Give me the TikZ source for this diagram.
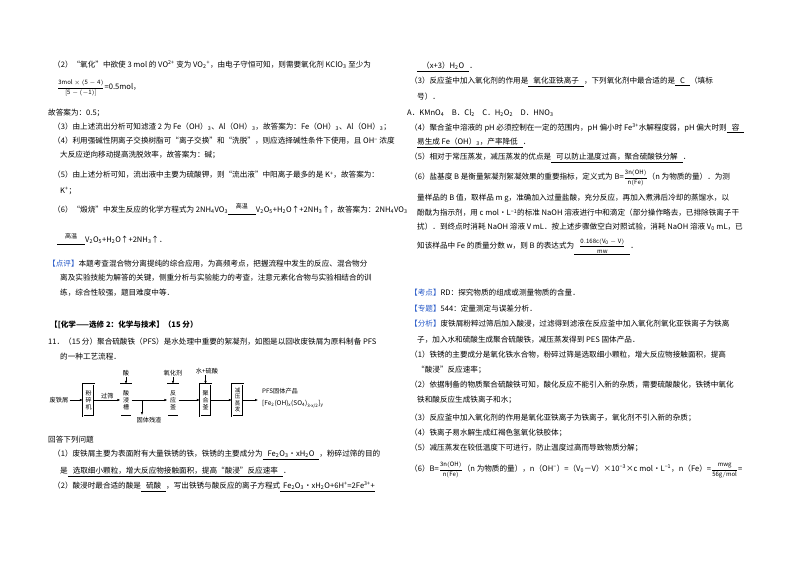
\documentclass[tikz,border=0pt]{standalone}
\usepackage{fontspec}
\setmainfont{Noto Sans CJK SC}
\usetikzlibrary{arrows.meta}
\newcommand{\ul}[1]{\underline{\hspace{5pt}#1\hspace{5pt}}}
\newcommand{\dn}[1]{\textsubscript{#1}}
\newcommand{\up}[1]{\textsuperscript{#1}}
\newcommand{\fr}[2]{$\displaystyle\frac{\mathrm{#1}}{\mathrm{#2}}$}
\newcommand{\gw}{\begin{tabular}{@{}c@{}}\fontsize{6}{6}\selectfont 高温\\[-3pt]\rule{28pt}{0.4pt}\end{tabular}}
\definecolor{hl}{RGB}{40,90,200}
\begin{document}
\begin{tikzpicture}[x=1pt,y=-1pt,
  L/.style={anchor=west,inner sep=0pt,font=\fontsize{7.6}{9}\selectfont},
  box/.style={draw,double,double distance=1pt,minimum width=11pt,text width=7pt,minimum height=32pt,inner sep=0.5pt,align=center,font=\fontsize{6}{6.8}\selectfont},
  lab/.style={inner sep=1pt,font=\fontsize{6.2}{7.5}\selectfont},
  arr/.style={-{Latex[length=3pt,width=2.5pt]},line width=0.5pt}]
\fill[white] (0,0) rectangle (800,565);
\useasboundingbox (0,0) rectangle (800,565);
% left column
\node[L] (l1) at (53,65) {（2）“氧化”中欲使 3 mol 的 VO\up{2+} 变为 VO\dn{2}\up{+}，由电子守恒可知，则需要氧化剂 KClO\dn{3} 至少为};
\node[L] (l2) at (57,88) {{\fontsize{6}{7}\selectfont\fr{3mol\times(5-4)}{[5-(-1)]}}=0.5mol，};
\node[L] (l3) at (48,113) {故答案为：0.5；};
\node[L] (l4) at (53,127) {（3）由上述流出分析可知滤渣 2 为 Fe（OH）\dn{3}、Al（OH）\dn{3}，故答案为：Fe（OH）\dn{3}、Al（OH）\dn{3}；};
\node[L] (l5) at (53,141) {（4）利用强碱性阴离子交换树脂可“离子交换”和“洗脱”，则应选择碱性条件下使用，且 OH\up{−} 浓度};
\node[L] (l6) at (60,155) {大反应逆向移动提高洗脱效率，故答案为：碱；};
\node[L] (l7) at (53,175) {（5）由上述分析可知，流出液中主要为硫酸钾，则“流出液”中阳离子最多的是 K\up{+}，故答案为：};
\node[L] (l8) at (60,191) {K\up{+}；};
\node[L] (l9) at (53,210) {（6）“煅烧”中发生反应的化学方程式为 2NH\dn{4}VO\dn{3}\gw V\dn{2}O\dn{5}+H\dn{2}O↑+2NH\dn{3}↑，故答案为：2NH\dn{4}VO\dn{3}};
\node[L] (l10) at (57,240) {\gw V\dn{2}O\dn{5}+H\dn{2}O↑+2NH\dn{3}↑．};
\node[L] (l11) at (48,264) {{\color{hl}【点评】}本题考查混合物分离提纯的综合应用，为高频考点，把握流程中发生的反应、混合物分};
\node[L] (l12) at (60,278) {离及实验技能为解答的关键，侧重分析与实验能力的考查，注意元素化合物与实验相结合的训};
\node[L] (l13) at (60,293) {练，综合性较强，题目难度中等．};
\node[L,font=\fontsize{7.6}{9}\selectfont\bfseries] (t1) at (50,325) {【[化学——选修 2：化学与技术】（15 分）};
\node[L] (l14) at (48,342) {11．（15 分）聚合硫酸铁（PFS）是水处理中重要的絮凝剂，如图是以回收废铁屑为原料制备 PFS};
\node[L] (l15) at (60,357) {的一种工艺流程．};
% flowchart
\node[lab] (raw) at (59,400) {废铁屑};
\node[box] (b1) at (88.5,400) {粉\\碎\\机};
\node[box] (b2) at (126,400) {酸\\浸\\槽};
\node[box] (b3) at (173,400) {反\\应\\釜};
\node[box] (b4) at (205.5,400) {聚\\合\\釜};
\node[box,font=\fontsize{5.5}{6.3}\selectfont] (b5) at (237.5,400) {减\\压\\蒸\\发};
\node[lab] (acid) at (126,373) {酸};
\node[lab] (ox) at (173,373) {氧化剂};
\node[lab] (ws) at (207,371) {水+硫酸};
\node[lab] (res) at (149,420) {固体残渣};
\coordinate (j) at (142,400);
\coordinate (jd) at (142,415);
\coordinate (pe) at (258,400);
\node[lab,anchor=west] (p1) at (261,391) {PFS固体产品};
\node[lab,anchor=west,font=\fontsize{6.5}{7.5}\rmfamily] (p2) at (261,404) {[Fe\dn{2}(OH)\dn{x}(SO\dn{4})\dn{3-x/2}]\dn{y}};
\draw[arr] (raw) -- (b1);
\draw[arr] (b1) -- node[lab,above]{过筛} (b2);
\draw[arr] (b2) -- (b3);
\draw[arr] (j) -- (jd);
\draw[arr] (b3) -- (b4);
\draw[arr] (b4) -- (b5);
\draw[arr] (b5) -- (pe);
\draw[arr] (acid) -- (b2);
\draw[arr] (ox) -- (b3);
\draw[arr] (ws.south -| b4) -- (b4);
\node[L] (l16) at (48,440) {回答下列问题};
\node[L] (l17) at (53,455) {（1）废铁屑主要为表面附有大量铁锈的铁，铁锈的主要成分为\ul{Fe\dn{2}O\dn{3}•xH\dn{2}O}，粉碎过筛的目的};
\node[L] (l18) at (60,472) {是\ul{选取细小颗粒，增大反应物接触面积，提高“酸浸”反应速率}．};
\node[L] (l19) at (53,487) {（2）酸浸时最合适的酸是\ul{硫酸}，写出铁锈与酸反应的离子方程式\underline{\hspace{3pt}Fe\dn{2}O\dn{3}•xH\dn{2}O+6H\up{+}=2Fe\up{3+}+}};
% right column
\node[L] (r1) at (417,67) {\ul{（x+3）H\dn{2}O}．};
\node[L] (r2) at (410,82) {（3）反应釜中加入氧化剂的作用是\ul{氧化亚铁离子}，下列氧化剂中最合适的是\ul{C}（填标};
\node[L] (r3) at (417,97) {号）．};
\node[L] (r4) at (407,113) {A．KMnO\dn{4}\quad B．Cl\dn{2}\quad C．H\dn{2}O\dn{2}\quad D．HNO\dn{3}};
\node[L] (r5) at (410,128) {（4）聚合釜中溶液的 pH 必须控制在一定的范围内，pH 偏小时 Fe\up{3+}水解程度弱，pH 偏大时则\ul{容}};
\node[L] (r6) at (417,143) {\underline{易生成 Fe（OH）\dn{3}，产率降低\hspace{5pt}}．};
\node[L] (r7) at (410,158) {（5）相对于常压蒸发，减压蒸发的优点是\ul{可以防止温度过高，聚合硫酸铁分解}．};
\node[L] (r8) at (410,178) {（6）盐基度 B 是衡量絮凝剂絮凝效果的重要指标，定义式为 B={\fontsize{6}{7}\selectfont\fr{3n(OH)}{n(Fe)}}（n 为物质的量）．为测};
\node[L] (r9) at (417,198) {量样品的 B 值，取样品 m g，准确加入过量盐酸，充分反应，再加入煮沸后冷却的蒸馏水，以};
\node[L] (r10) at (417,213) {酚酞为指示剂，用 c mol•L\up{−1}的标准 NaOH 溶液进行中和滴定（部分操作略去，已排除铁离子干};
\node[L] (r11) at (417,227) {扰）．到终点时消耗 NaOH 溶液 V mL．按上述步骤做空白对照试验，消耗 NaOH 溶液 V\dn{0} mL，已};
\node[L] (r12) at (417,247) {知该样品中 Fe 的质量分数 w，则 B 的表达式为\ul{{\fontsize{6}{7}\selectfont\fr{0.168c(V_0-V)}{mw}}}．};
\node[L] (r13) at (410,293) {{\color{hl}【考点】}RD：探究物质的组成或测量物质的含量．};
\node[L] (r14) at (410,309) {{\color{hl}【专题】}544：定量测定与误差分析．};
\node[L] (r15) at (410,324) {{\color{hl}【分析】}废铁屑粉粹过筛后加入酸浸，过滤得到滤液在反应釜中加入氧化剂氧化亚铁离子为铁离};
\node[L] (r16) at (417,340) {子，加入水和硫酸生成聚合硫酸铁，减压蒸发得到 PES 固体产品．};
\node[L] (r17) at (410,355) {（1）铁锈的主要成分是氧化铁水合物，粉碎过筛是选取细小颗粒，增大反应物接触面积，提高};
\node[L] (r18) at (417,370) {“酸浸”反应速率；};
\node[L] (r19) at (410,385) {（2）依据制备的物质聚合硫酸铁可知，酸化反应不能引入新的杂质，需要硫酸酸化，铁锈中氧化};
\node[L] (r20) at (417,400) {铁和酸反应生成铁离子和水；};
\node[L] (r21) at (410,418) {（3）反应釜中加入氧化剂的作用是氧化亚铁离子为铁离子，氧化剂不引入新的杂质；};
\node[L] (r22) at (410,433) {（4）铁离子易水解生成红褐色氢氧化铁胶体；};
\node[L] (r23) at (410,448) {（5）减压蒸发在较低温度下可进行，防止温度过高而导致物质分解；};
\node[L] (r24) at (410,470) {（6）B={\fontsize{6}{7}\selectfont\fr{3n(OH)}{n(Fe)}}（n 为物质的量），n（OH\up{−}）=（V\dn{0}－V）×10\up{−3}×c mol•L\up{−1}，n（Fe）={\fontsize{6}{7}\selectfont\fr{mwg}{56g/mol}}=};
\end{tikzpicture}
\end{document}
